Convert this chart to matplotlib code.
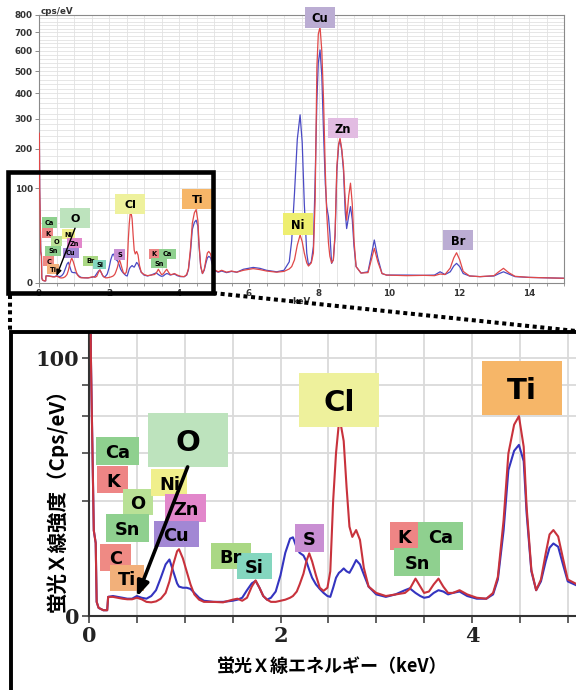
import numpy as np
import matplotlib
matplotlib.use('Agg')
import matplotlib.pyplot as plt
from matplotlib.patches import Rectangle
from matplotlib.lines import Line2D
import matplotlib.transforms as mtransforms

plt.rcParams['font.family'] = ['DejaVu Sans']

# ---------------- data ----------------
energy = [0.00, 0.01, 0.02, 0.05, 0.07, 0.08, 0.10, 0.15, 0.19, 0.20, 0.25, 0.30, 0.35, 0.40, 0.45,
          0.50, 0.55, 0.60, 0.65, 0.70, 0.75, 0.80, 0.84, 0.88, 0.92, 0.94, 0.98, 1.02, 1.06, 1.10,
          1.15, 1.20, 1.30, 1.40, 1.50, 1.55, 1.60, 1.65, 1.70, 1.74, 1.78, 1.82, 1.86, 1.90, 1.95,
          2.00, 2.05, 2.10, 2.13, 2.17, 2.20, 2.24, 2.27, 2.30, 2.33, 2.37, 2.41, 2.45, 2.49, 2.52,
          2.55, 2.58, 2.61, 2.63, 2.66, 2.69, 2.72, 2.75, 2.79, 2.83, 2.87, 2.92, 3.00, 3.10, 3.20,
          3.30, 3.35, 3.41, 3.46, 3.50, 3.55, 3.60, 3.65, 3.70, 3.75, 3.80, 3.87, 3.95, 4.05, 4.15,
          4.22, 4.27, 4.33, 4.38, 4.44, 4.49, 4.54, 4.57, 4.62, 4.67, 4.72, 4.77, 4.81, 4.85, 4.90,
          4.95, 5.00, 5.12, 5.22, 5.36, 5.50, 5.65, 5.84, 6.12, 6.31, 6.50, 6.79, 7.00, 7.15, 7.22,
          7.30, 7.38, 7.46, 7.52, 7.58, 7.65, 7.70, 7.78, 7.84, 7.89, 7.94, 7.98, 8.03, 8.08, 8.13,
          8.18, 8.22, 8.27, 8.31, 8.36, 8.41, 8.46, 8.51, 8.56, 8.60, 8.65, 8.70, 8.75, 8.79, 8.85,
          8.90, 8.95, 9.00, 9.06, 9.20, 9.40, 9.48, 9.58, 9.68, 9.80, 9.93, 10.5, 11.0, 11.3, 11.46,
          11.6, 11.75, 11.85, 11.93, 12.02, 12.12, 12.3, 12.6, 13.0, 13.12, 13.27, 13.42, 13.6, 14.0,
          14.5, 15.0]

red = [250, 250, 100, 11, 8, 0.3, 0.1, 0.05, 0.05, 0.55, 0.55, 0.5, 0.45, 0.42, 0.42,
       0.5, 0.42, 0.3, 0.28, 0.32, 0.45, 0.8, 1.8, 4.0, 6.3, 6.7, 5.0, 3.0, 1.5, 0.7,
       0.4, 0.3, 0.3, 0.28, 0.4, 0.45, 0.35, 0.5, 1.3, 1.9, 1.2, 0.6, 0.4, 0.3, 0.3,
       0.35, 0.4, 0.5, 0.6, 0.9, 1.5, 2.7, 4.5, 5.9, 4.5, 2.5, 1.2, 0.95, 1.2, 3.0,
       20, 40, 56, 55, 46, 25, 12, 9.4, 11.1, 8.7, 3.5, 1.3, 0.8, 0.6, 0.7,
       0.8, 1.1, 2.1, 1.3, 0.8, 0.9, 1.5, 2.1, 1.3, 0.8, 0.8, 1.0, 0.7, 0.5, 0.45,
       0.8, 2.3, 13.8, 39.7, 55, 60, 43, 18, 3.2, 1.0, 2.0, 5.9, 10, 11.1, 9.5,
       5.0, 2.0, 1.4, 1.8, 1.3, 1.6, 1.3, 1.8, 2.3, 2.0, 1.6, 1.3, 1.5, 2.2, 3.0,
       6, 16, 25.7, 19, 10, 4.5, 3.2, 4.5, 10, 77, 520, 690, 730, 600, 373,
       140, 55, 18, 8, 4.5, 6, 28, 151, 215, 233, 200, 151, 75, 44, 85,
       111, 70, 20, 3, 1.1, 1.2, 5, 13.4, 5, 1.0, 0.7, 0.6, 0.65, 0.6, 0.9,
       0.8, 2.5, 7, 10.2, 6, 1.5, 0.55, 0.45, 0.6, 1.3, 2.4, 1.2, 0.5, 0.35,
       0.3, 0.25]

blue = [250, 250, 100, 11, 8, 0.3, 0.1, 0.05, 0.05, 0.55, 0.6, 0.55, 0.5, 0.45, 0.45,
        0.6, 0.5, 0.45, 0.6, 1.0, 2.2, 4.0, 4.8, 3.0, 1.6, 1.3, 1.2, 1.2, 1.1, 0.8,
        0.5, 0.35, 0.3, 0.3, 0.35, 0.4, 0.5, 1.0, 1.6, 1.85, 1.2, 0.6, 0.4, 0.5, 0.9,
        2.5, 6.0, 9.0, 9.3, 7.0, 6.0, 5.5, 4.5, 3.2, 2.2, 1.5, 1.1, 0.8, 0.6, 0.55,
        1.2, 2.2, 2.8, 3.0, 3.4, 3.0, 2.8, 3.5, 4.7, 4.0, 2.6, 1.3, 0.7, 0.55, 0.7,
        1.0, 1.15, 0.8, 0.6, 0.5, 0.55, 0.8, 1.0, 0.9, 0.7, 0.8, 0.9, 0.6, 0.45, 0.45,
        0.7, 2.0, 11, 32, 41, 44, 36, 16, 3.0, 1.0, 1.8, 4.5, 7, 7.9, 7.2,
        4.0, 1.8, 1.3, 1.6, 1.2, 1.5, 1.3, 2.1, 2.7, 2.4, 1.8, 1.4, 1.8, 5, 20,
        90, 230, 315, 220, 70, 10, 3.5, 5, 15, 120, 373, 540, 605, 480, 251,
        110, 65, 49, 28, 4.3, 6, 25, 140, 210, 229, 195, 140, 55, 33, 50,
        65, 45, 15, 3, 1.1, 1.4, 7, 20.6, 7, 1.0, 0.7, 0.7, 0.65, 0.7, 1.4,
        0.8, 1.4, 3.2, 4.3, 3, 1.0, 0.55, 0.45, 0.55, 0.9, 1.4, 0.9, 0.45, 0.35,
        0.3, 0.25]

# element labels (position in keV / cps per eV)
label_names = ['Ca', 'K', 'O', 'Ni', 'Zn', 'Sn', 'Cu', 'C', 'Ti', 'O', 'Br', 'Si', 'S', 'Cl',
               'K', 'Ca', 'Sn', 'Ti', 'Ni', 'Cu', 'Zn', 'Br']
label_energy = [0.30, 0.25, 0.51, 0.84, 1.01, 0.40, 0.91, 0.28, 0.40, 1.03, 1.48, 1.73, 2.30, 2.61,
                3.29, 3.67, 3.43, 4.52, 7.40, 8.03, 8.69, 11.97]
label_value = [40.9, 27.8, 19.5, 26.6, 17.5, 11.6, 10.1, 5.2, 2.17, 46.5, 5.4, 3.75, 9.1, 70,
               9.6, 9.6, 4.4, 78, 38.8, 786, 268, 20.6]
label_colors = ['#8fd08f', '#ee8585', '#b9e196', '#f0ef8c', '#e287cb', '#8fd08f', '#a287d4', '#ef8a84',
                '#f2b07a', '#bde3bd', '#aad884', '#84d6bf', '#c98fd3', '#eef19c',
                '#ee8585', '#8fd08f', '#8fd08f', '#f6b668', '#eeee70', '#bbadd3', '#e2bce2', '#bbadd3']
# box size in inset pixels (top panel uses a scaled version)
label_w = [43, 31, 30, 36, 41, 43, 45, 31, 34, 80, 40, 35, 29, 80, 29, 45, 46, 80, 30, 30, 30, 30]
label_h = [28, 27, 26, 27, 28, 28, 26, 27, 26, 54, 26, 26, 28, 54, 28, 28, 28, 54, 22, 21, 20, 20]
label_big = [0, 0, 0, 0, 0, 0, 0, 0, 0, 1, 0, 0, 0, 1, 0, 0, 0, 1, 2, 2, 2, 2]

arrow_from = (1.03, 33.4)
arrow_to = (0.50, 0.55)

# ---------------- figure ----------------
W, H = 576, 690
fig = plt.figure(figsize=(W / 100, H / 100), dpi=100)


def fbox(l, t, r, b):
    return [l / W, 1 - b / H, (r - l) / W, (b - t) / H]


def fwd(y):
    return np.sqrt(np.clip(y, 0, None))


def inv(y):
    return np.square(y)


RED_T, BLUE_T = '#e04848', '#4a4ac4'
RED_I, BLUE_I = '#c8323c', '#3434c0'


def put_label(ax, x, y, text, color, w, h, fs, scale):
    trans = fig.dpi_scale_trans + mtransforms.ScaledTranslation(x, y, ax.transData)
    ww, hh = w * scale / 100, h * scale / 100
    rect = Rectangle((-ww / 2, -hh / 2), ww, hh, transform=trans, facecolor=color,
                     edgecolor='none', zorder=4, clip_on=False)
    ax.add_artist(rect)
    ax.text(x, y, text, ha='center', va='center_baseline', fontsize=fs, fontweight='bold',
            color='black', zorder=5, clip_on=False)


# ---------- top overview panel ----------
ax = fig.add_axes(fbox(39, 15, 564, 283))
ax.set_yscale('function', functions=(fwd, inv))
ax.plot(energy, blue, color=BLUE_T, lw=0.9, zorder=2)
ax.plot(energy, red, color=RED_T, lw=0.9, zorder=3)
ax.set_xlim(0, 15)
ax.set_ylim(0, 800)
ax.set_yticks(np.arange(0, 801, 100))
ax.set_yticks(np.arange(0, 801, 20), minor=True)
ax.set_xticks(np.arange(0, 15, 2))
ax.set_xticks(np.arange(0, 15.01, 0.5), minor=True)
ax.grid(True, which='both', color='#e2e2e2', lw=0.6, zorder=0)
ax.set_axisbelow(True)
for s in ax.spines.values():
    s.set_color('#8a8a8a')
    s.set_linewidth(0.8)
ax.tick_params(axis='both', which='major', length=3, width=0.6, color='#777777', labelsize=6.3,
               labelcolor='#333333', pad=1.5)
ax.tick_params(axis='x', which='minor', length=2, width=0.5, color='#777777')
ax.tick_params(axis='y', which='minor', length=0)
for t in ax.get_xticklabels() + ax.get_yticklabels():
    t.set_fontweight('bold')
fig.text(41 / W, 1 - 11 / H, 'cps/eV', fontsize=6.3, fontweight='bold', color='#333333',
         ha='left', va='center')
fig.text(301 / W, 1 - 302 / H, 'keV', fontsize=6.3, fontweight='bold', color='#333333',
         ha='center', va='center')

TOP_SCALE = 35 / 95.75
for i in range(len(label_names)):
    fs = {0: 4.8, 1: 8.0, 2: 8.3}[label_big[i]]
    if label_big[i] == 1:
        w, h, sc = 30, 20, 1.0
    elif label_big[i] == 2:
        w, h, sc = label_w[i], label_h[i], 1.0
    else:
        w, h, sc = label_w[i], label_h[i], TOP_SCALE
    put_label(ax, label_energy[i], label_value[i], label_names[i], label_colors[i], w, h, fs, sc)
ax.annotate('', xy=arrow_to, xytext=arrow_from,
            arrowprops=dict(arrowstyle='-|>,head_length=0.35,head_width=0.15', color='black',
                            lw=1.0, shrinkA=0, shrinkB=0), zorder=6)

# ---------- zoomed inset ----------
PX_PER_KEV = 95.75
ax2 = fig.add_axes(fbox(89, 334, 89 + 5.8 * PX_PER_KEV, 616))
ax2.set_yscale('function', functions=(fwd, inv))
ax2.plot(energy, blue, color=BLUE_I, lw=1.5, zorder=2)
ax2.plot(energy, red, color=RED_I, lw=1.5, zorder=3)
ax2.set_xlim(0, 5.8)
ax2.set_ylim(0, 119.5)
ax2.set_yticks(np.arange(0, 101, 20))
ax2.set_yticklabels(['0', '', '', '', '', '100'])
ax2.set_xticks([0, 2, 4])
ax2.set_xticks(np.arange(0, 5.81, 0.5), minor=True)
ax2.grid(True, which='both', color='#dadada', lw=1.3, zorder=0)
ax2.set_axisbelow(True)
ax2.spines['top'].set_visible(False)
ax2.spines['right'].set_visible(False)
for s in ('left', 'bottom'):
    ax2.spines[s].set_color('#333333')
    ax2.spines[s].set_linewidth(1.5)
ax2.tick_params(axis='both', which='both', length=5, width=1.3, color='#555555', pad=2)
for t in ax2.get_xticklabels() + ax2.get_yticklabels():
    t.set_fontfamily('DejaVu Serif')
    t.set_fontweight('bold')
    t.set_fontsize(15)
    t.set_color('#222222')

for i in range(len(label_names)):
    if label_big[i] == 2:
        continue
    fs = 21 if label_big[i] == 1 else 12.8
    put_label(ax2, label_energy[i], label_value[i], label_names[i], label_colors[i],
              label_w[i], label_h[i], fs, 1.0)
ax2.annotate('', xy=arrow_to, xytext=arrow_from,
             arrowprops=dict(arrowstyle='-|>,head_length=0.9,head_width=0.35', color='black',
                             lw=2.6, shrinkA=0, shrinkB=0), zorder=6)

cjk = ['Noto Sans CJK JP', 'DejaVu Sans']
fig.text(57 / W, 1 - 495 / H, '蛍光Ｘ線強度（Cps/eV）', rotation=90, ha='center', va='center',
         fontsize=14.8, fontweight='bold', family=cjk)
fig.text(332 / W, 1 - 666 / H, '蛍光Ｘ線エネルギー（keV）', ha='center', va='center',
         fontsize=13, fontweight='bold', family=cjk)

# ---------- zoom highlight, connectors and inset frame ----------
def P(x, y):
    return x / W, 1 - y / H

x0, y0 = P(8, 293)
hl = Rectangle((x0, y0), 205 / W, 121 / H, transform=fig.transFigure, fill=False,
               edgecolor='black', lw=3.3, zorder=10)
fig.add_artist(hl)
for (xa, ya), (xb, yb) in [((10, 295), (10, 331)), ((213, 293), (576, 331))]:
    pa, pb = P(xa, ya), P(xb, yb)
    fig.add_artist(Line2D([pa[0], pb[0]], [pa[1], pb[1]], transform=fig.transFigure,
                          color='black', lw=2.9, linestyle=(0, (1, 0.9)),
                          dash_capstyle='butt', zorder=10))
bx, by = P(11, 800)
frame = Rectangle((bx, by), 700 / W, (800 - 331.5) / H, transform=fig.transFigure, fill=False,
                  edgecolor='black', lw=2.8, zorder=10)
fig.add_artist(frame)

fig.savefig('out.png', dpi=100)
